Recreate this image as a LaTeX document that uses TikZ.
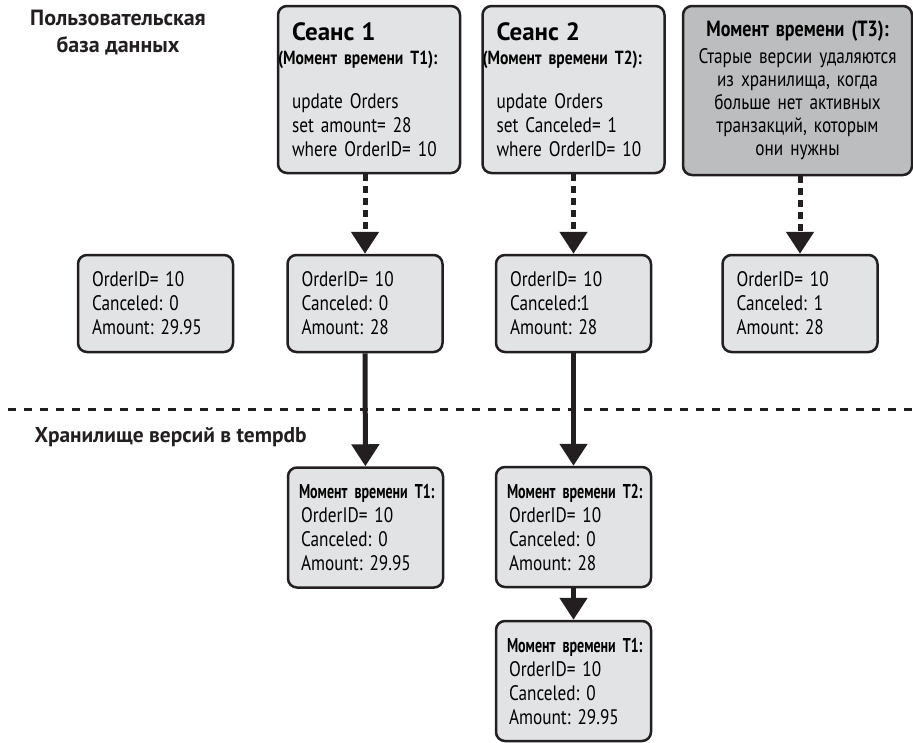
\documentclass[tikz,border=0pt]{standalone}
\usepackage{fontspec}
\setmainfont{PT Sans}[FakeStretch=0.82, WordSpace=0.9]
\newfontfamily\widefont{PT Sans}
\newfontfamily\narrowfont{PT Sans}[FakeStretch=0.7]
\usetikzlibrary{arrows.meta, positioning}
\definecolor{CellGray}{RGB}{226,227,229}
\definecolor{NoteGray}{RGB}{188,189,191}
\definecolor{InkBlack}{RGB}{35,31,32}
\frenchspacing
\newcommand\verhead[1]{\hspace*{-2pt}\makebox[0pt][l]{\narrowfont\fontsize{20}{23}\selectfont\bfseries #1}}
\newcommand\sesshead[2]{{\widefont\fontsize{25}{24}\selectfont\bfseries #1}\\
    \hspace*{-14pt}{\fontsize{19}{24}\selectfont\bfseries #2}}

\begin{document}
\begin{tikzpicture}[x=1pt, y=-1pt,
    box/.style={draw=InkBlack, line width=2.5pt, rounded corners=9pt, fill=CellGray,
        align=left, inner xsep=14pt, inner ysep=0pt, font=\fontsize{21}{24}\selectfont},
    rowbox/.style={box, text width=127pt, minimum height=97pt},
    verbox/.style={box, text width=129pt, minimum height=120pt, inner xsep=13pt},
    sessbox/.style={box, text width=154pt, minimum height=167pt},
    notebox/.style={box, fill=NoteGray, align=center, text width=205pt, inner xsep=12pt,
        minimum height=169pt, font=\fontsize{21}{23}\selectfont},
    title/.style={font=\widefont\fontsize{22}{27}\selectfont\bfseries, text=InkBlack},
    move/.style={draw=InkBlack, line width=5pt, -{Triangle[width=27pt, length=22pt]}},
    dashmove/.style={move, dash pattern=on 7pt off 5pt},
    sepline/.style={draw=InkBlack, line width=3pt, dash pattern=on 8pt off 8pt}]
    \useasboundingbox (0,0) rectangle (913,742);

    % labels
    \node[title, align=center] (userdb) at (118,33) {Пользовательская\\база данных};
    \node[title, anchor=west, font=\widefont\fontsize{21.4}{27}\selectfont\bfseries] (store) at (31,437) {Хранилище версий в tempdb};
    \coordinate (sepl) at (8,409);
    \coordinate (sepr) at (913,409);
    \draw[sepline] (sepl) -- (sepr);

    % sessions
    \node[sessbox] (s1) at (369,89.5) {\sesshead{Сеанс 1}{(Момент времени T1):}\\[20pt]
        update Orders\\set amount= 28\\where OrderID= 10};
    \node[sessbox] (s2) at (573.5,89.5) {\sesshead{Сеанс 2}{(Момент времени T2):}\\[20pt]
        update Orders\\set Canceled= 1\\where OrderID= 10};
    \node[notebox] (t3) at (797.5,90.5) {{\fontsize{22}{23}\selectfont\bfseries Момент времени (T3):}\\[4pt]
        Старые версии удаляются\\из хранилища, когда\\больше нет активных\\транзакций, которым\\они нужны};

    % rows in the user database
    \node[rowbox] (v0) at (155.5,303.5) {OrderID= 10\\Canceled: 0\\Amount: 29.95};
    \node[rowbox] (v1) at (365,303.5) {OrderID= 10\\Canceled: 0\\Amount: 28};
    \node[rowbox] (v2) at (573.5,303.5) {OrderID= 10\\Canceled:1\\Amount: 28};
    \node[rowbox] (v3) at (800,303.5) {OrderID= 10\\Canceled: 1\\Amount: 28};

    % version store
    \node[verbox] (old1) at (365.5,527.5) {\verhead{Момент времени T1:}\\OrderID= 10\\Canceled: 0\\Amount: 29.95};
    \node[verbox] (old2) at (573.5,527) {\verhead{Момент времени T2:}\\OrderID= 10\\Canceled: 0\\Amount: 28};
    \node[verbox] (old3) at (573.5,681) {\verhead{Момент времени T1:}\\OrderID= 10\\Canceled: 0\\Amount: 29.95};

    \draw[dashmove] (v1.north |- s1.south) -- (v1.north);
    \draw[dashmove] (v2.north |- s2.south) -- (v2.north);
    \draw[dashmove] (v3.north |- t3.south) -- (v3.north);
    \draw[move] (v1) -- (old1);
    \draw[move] (v2) -- (old2);
    \draw[move] (old2) -- (old3);
\end{tikzpicture}
\end{document}
